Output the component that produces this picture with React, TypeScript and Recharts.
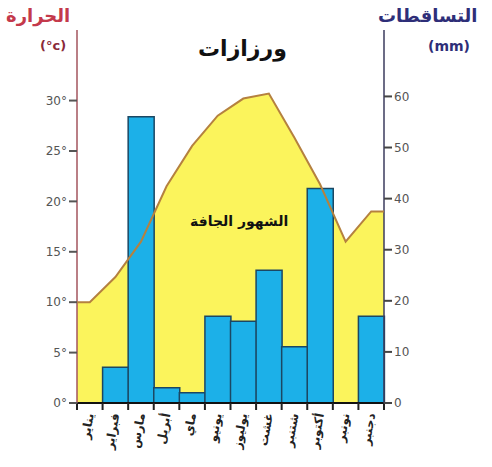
import React from "react";
import {
  Area,
  Bar,
  ComposedChart,
  Line,
  XAxis,
  YAxis,
} from "recharts";

const months = [
  "يناير",
  "فبراير",
  "مارس",
  "أبريل",
  "ماي",
  "يونيو",
  "يوليوز",
  "غشت",
  "شتنبر",
  "أكتوبر",
  "نونبر",
  "دجنبر",
];
const precipitation = [0, 7, 56, 3, 2, 17, 16, 26, 11, 42, 0, 17];
const temperature = [10, 12.5, 16, 21.5, 25.5, 28.5, 30.2, 30.7, 26.3, 21.7, 16, 19];
const tempTicks = [0, 5, 10, 15, 20, 25, 30];
const rainTicks = [0, 10, 20, 30, 40, 50, 60];
const edgeTicks = [0, 1, 2, 3, 4, 5, 6, 7, 8, 9, 10, 11, 12];

const barData = months.map((m, i) => ({ month: m, rain: precipitation[i] }));

// temperature curve on a 0..12 scale, held flat out to both edges
const tempData = [
  { x: 0, temp: temperature[0] },
  ...temperature.map((t, i) => ({ x: i + 0.5, temp: t })),
  { x: 12, temp: temperature[temperature.length - 1] },
];

const FONT = "'DejaVu Sans', sans-serif";
const LEFT_W = 77;
const RIGHT_W = 108;
const SLOT = (492 - LEFT_W - RIGHT_W) / 12;

// tick marks sit on month boundaries, the month name goes in the middle of the slot
function EdgeTick(props: any) {
  const { x, y, payload } = props;
  const name = months[payload.value];
  if (!name) return null;
  return (
    <g transform={`translate(${x + SLOT / 2 + 4},${y + 2})`}>
      <text
        transform="rotate(-80)"
        textAnchor="end"
        fontSize={12}
        fontWeight="bold"
        fill="#222"
        fontFamily={FONT}
      >
        {name}
      </text>
    </g>
  );
}

export default function App() {
  return (
    <div
      style={{
        position: "absolute",
        left: 0,
        top: 0,
        width: 492,
        height: 467,
        background: "#fff",
        fontFamily: FONT,
      }}
    >
      <ComposedChart
        width={492}
        height={467}
        data={barData}
        barCategoryGap={0}
        margin={{ top: 30, right: 0, bottom: 4, left: 0 }}
      >
        <XAxis xAxisId="months" dataKey="month" hide />
        <XAxis
          xAxisId="edges"
          type="number"
          dataKey="x"
          domain={[0, 12]}
          ticks={edgeTicks}
          interval={0}
          tick={<EdgeTick />}
          tickLine={{ stroke: "#222", strokeWidth: 2 }}
          tickSize={7}
          axisLine={{ stroke: "#111", strokeWidth: 2 }}
          height={60}
          allowDataOverflow
        />
        <YAxis
          yAxisId="t"
          orientation="left"
          domain={[0, 37]}
          ticks={tempTicks}
          width={LEFT_W}
          tickSize={8}
          tickLine={{ stroke: "#555", strokeWidth: 2 }}
          axisLine={{ stroke: "#a3545e", strokeWidth: 1.5 }}
          tick={{ fill: "#555", fontSize: 12, fontFamily: FONT }}
          tickFormatter={(v: number) => `${v}°`}
        />
        <YAxis
          yAxisId="p"
          orientation="right"
          domain={[0, 73]}
          ticks={rainTicks}
          width={RIGHT_W}
          tickSize={8}
          tickLine={{ stroke: "#444", strokeWidth: 2 }}
          axisLine={{ stroke: "#3b3b5e", strokeWidth: 1.5 }}
          tick={{ fill: "#555", fontSize: 12, fontFamily: FONT }}
        />
        <Area
          data={tempData}
          xAxisId="edges"
          yAxisId="t"
          dataKey="temp"
          type="linear"
          stroke="none"
          fill="#fbf45c"
          fillOpacity={1}
          isAnimationActive={false}
        />
        <Bar
          xAxisId="months"
          yAxisId="p"
          dataKey="rain"
          fill="#1cb0e8"
          stroke="#1b4763"
          strokeWidth={1.5}
          isAnimationActive={false}
        />
        <Line
          data={tempData}
          xAxisId="edges"
          yAxisId="t"
          dataKey="temp"
          type="linear"
          stroke="#b5813f"
          strokeWidth={2}
          dot={false}
          activeDot={false}
          zIndex={700}
          isAnimationActive={false}
        />
      </ComposedChart>

      <div style={{ position: "absolute", left: 6, top: 5, color: "#c4394b", fontWeight: "bold", fontSize: 18 }}>
        الحرارة
      </div>
      <div style={{ position: "absolute", left: 40, top: 38, color: "#8a2a3a", fontWeight: "bold", fontSize: 13 }}>
        (°c)
      </div>
      <div style={{ position: "absolute", left: 378, top: 5, color: "#2e2e78", fontWeight: "bold", fontSize: 18 }}>
        التساقطات
      </div>
      <div style={{ position: "absolute", left: 428, top: 38, color: "#2e2e78", fontWeight: "bold", fontSize: 14 }}>
        (mm)
      </div>
      <div style={{ position: "absolute", left: 198, top: 36, color: "#111", fontWeight: "bold", fontSize: 22 }}>
        ورزازات
      </div>
      <div style={{ position: "absolute", left: 190, top: 213, color: "#111", fontWeight: "bold", fontSize: 14 }}>
        الشهور الجافة
      </div>
    </div>
  );
}
